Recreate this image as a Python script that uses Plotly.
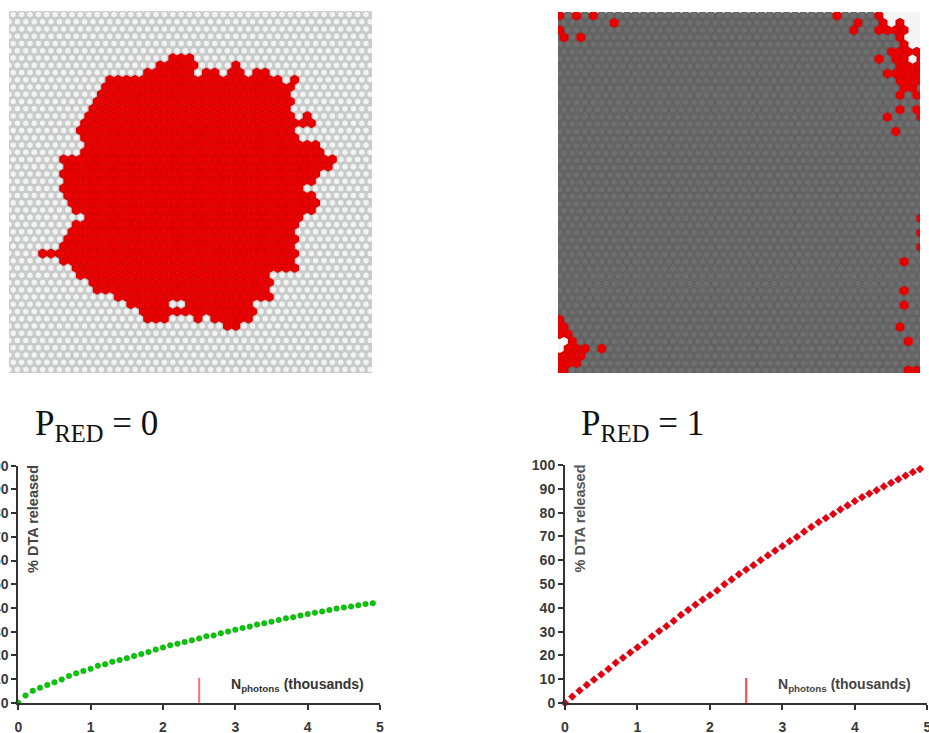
import plotly.graph_objects as go

W, H = 929, 733

# --- Lattice panels: red / white runs per row (positions along the row in picture units)
LEFT_RED_RUNS = {
    6: [(168, 193)], 7: [(157, 197), (230, 240)],
    8: [(143, 192), (200, 218), (226, 240), (252, 268)],
    9: [(105, 282), (290, 298)], 10: [(100, 292)], 11: [(95, 293)], 12: [(95, 297)],
    13: [(92, 293)], 14: [(83, 293), (300, 310)], 15: [(78, 315)], 16: [(76, 297)],
    17: [(80, 297)], 18: [(82, 320)], 19: [(82, 325)], 20: [(58, 334)], 21: [(60, 329)],
    22: [(60, 322)], 23: [(60, 318)], 24: [(60, 307)], 25: [(62, 318)], 26: [(67, 316)],
    27: [(72, 312)], 28: [(82, 306)], 29: [(72, 300)], 30: [(66, 295)], 31: [(62, 297)],
    32: [(60, 297)], 33: [(37, 297)], 34: [(58, 297)], 35: [(72, 297)],
    36: [(78, 272), (283, 290)], 37: [(85, 270)], 38: [(95, 268)], 39: [(112, 272)],
    40: [(125, 168), (183, 255)], 41: [(137, 255)],
    42: [(145, 165), (195, 198), (212, 250)], 43: [(225, 238)],
}
RIGHT_RED_RUNS = {
    0: [(558, 565), (573, 582), (590, 598), (833, 842), (877, 883)],
    1: [(612, 619), (855, 862), (880, 885), (897, 905)],
    2: [(558, 565), (852, 858), (877, 908)],
    3: [(558, 565), (578, 585), (899, 907)],
    4: [(903, 912)], 5: [(888, 925)], 6: [(876, 883), (893, 910), (917, 925)],
    7: [(895, 925)], 8: [(883, 925)], 9: [(897, 925)], 10: [(900, 913)],
    11: [(896, 903), (915, 925)], 13: [(897, 905), (915, 925)],
    14: [(883, 892), (915, 925)], 16: [(893, 901)],
    28: [(917, 925)], 30: [(917, 925)], 32: [(917, 925)],
    34: [(901, 908)], 38: [(901, 908)], 40: [(901, 908)],
    42: [(553, 563)], 43: [(897, 905), (553, 568)], 44: [(553, 575)],
    45: [(905, 913), (565, 577)], 46: [(565, 590), (599, 607)],
    47: [(553, 582)], 48: [(553, 580)], 49: [(905, 925), (553, 570)],
}
RIGHT_WHITE_RUNS = {
    0: [(885, 925)], 1: [(888, 897), (905, 925)], 2: [(908, 925)], 3: [(906, 925)],
    4: [(912, 925)], 6: [(910, 917)], 45: [(553, 565)], 46: [(553, 565)],
}
LEFT_WHITE_RUNS = {}

# --- Release curves
N_THOUSANDS = [i / 10 for i in range(50)]
RELEASE_P0 = [0, 3, 5, 6.3, 7.5, 8.6, 9.8, 11.3, 12.4, 13.4, 14.3, 15.6, 16.2, 17.3, 18, 18.8, 19.7,
              20.5, 21.4, 22.4, 23.3, 24.2, 24.9, 25.6, 26.3, 27.1, 28, 28.4, 29.3, 30, 30.8, 31.5,
              32.1, 33, 33.5, 34.2, 34.9, 35.6, 36.1, 36.8, 37.4, 38, 38.5, 39.1, 39.7, 40.2, 40.6,
              41.1, 41.6, 42]
RELEASE_P1 = [0, 2.7, 5.2, 7.6, 9.8, 12, 14.3, 16.9, 19, 21.2, 23.4, 25.5, 28, 30.2, 32.3, 34.5, 37,
              39.1, 41.3, 43.4, 45.3, 47.3, 49.9, 51.9, 54.1, 56, 57.9, 60, 62, 64, 65.9, 68, 69.8,
              72, 74, 76, 77.7, 79.4, 81.3, 83, 84.8, 86.5, 88, 89.4, 91, 92.5, 94, 95.5, 97, 98.3]
Y_TICKS = list(range(0, 101, 10))
X_TICKS = [0, 1, 2, 3, 4, 5]
MARKER_X = [2.5, 2.5]
MARKER_Y = [-0.8, 10.5]

LATTICE_PITCH = 8.4
ROW_PITCH = 7.24


def lattice(x0, x1, y0, y1, red_runs, white_runs):
    cells = {"base": ([], []), "red": ([], []), "white": ([], [])}
    r = 0
    y = y0 + ROW_PITCH / 2
    while y - ROW_PITCH < y1:
        c = -1
        while True:
            x = x0 + LATTICE_PITCH * (c + 0.5 + 0.5 * (r % 2))
            if x - LATTICE_PITCH > x1:
                break
            if any(a <= x <= b for a, b in red_runs.get(r, [])):
                kind = "red"
            elif any(a <= x <= b for a, b in white_runs.get(r, [])):
                kind = "white"
            else:
                kind = "base"
            cells[kind][0].append(x)
            cells[kind][1].append(y)
            c += 1
        r += 1
        y += ROW_PITCH
    return cells


def cell_traces(cells, ax, ay, base, spot):
    out = []
    styles = [("base", "hexagon", 10.2, base), ("base", "circle", 5.5, spot),
              ("white", "hexagon", 10.2, "#f4f6f6"),
              ("red", "hexagon", 10.2, "#dc0000"), ("red", "circle", 6, "#ea0000")]
    for kind, sym, size, col in styles:
        xs, ys = cells[kind]
        out.append(go.Scatter(x=xs, y=ys, mode="markers", xaxis=ax, yaxis=ay, hoverinfo="skip",
                              marker=dict(symbol=sym, size=size, color=col, line_width=0)))
    return out


fig = go.Figure()
PANELS = [("x", "y", 9, 372, 11, 373, 0, LEFT_RED_RUNS, LEFT_WHITE_RUNS, "#c9cbcb", "#f2f3f3"),
          ("x2", "y2", 558, 920, 12, 373, -2.5, RIGHT_RED_RUNS, RIGHT_WHITE_RUNS, "#626262", "#6f6f6f")]
for ax, ay, x0, x1, y0, y1, phase, red, white, base, spot in PANELS:
    for t in cell_traces(lattice(x0 + phase, x1, y0, y1, red, white), ax, ay, base, spot):
        fig.add_trace(t)

CHARTS = [("x3", "y3", RELEASE_P0, "circle", 5.5, "#06c806", "#0a9a0a", "#ff7070"),
          ("x4", "y4", RELEASE_P1, "diamond", 6, "#e00012", "#e00012", "#ff4848")]
for ax, ay, vals, sym, size, col, edge, tick in CHARTS:
    fig.add_trace(go.Scatter(x=MARKER_X, y=MARKER_Y, mode="lines", xaxis=ax, yaxis=ay,
                             line=dict(color=tick, width=2), cliponaxis=False, hoverinfo="skip"))
    fig.add_trace(go.Scatter(x=N_THOUSANDS, y=vals, mode="markers", xaxis=ax, yaxis=ay,
                             cliponaxis=False,
                             marker=dict(symbol=sym, size=size, color=col,
                                         line=dict(color=edge, width=0.5))))


def dom_x(a, b):
    return [a / W, b / W]


def dom_y(top, bottom):
    return [1 - bottom / H, 1 - top / H]


hidden = dict(visible=False, showgrid=False, zeroline=False, automargin=False)
chart_font = dict(family="Liberation Sans", size=14, color="#3a3a3a")


def chart_x(a, b, anchor):
    return dict(domain=dom_x(a, b), range=[0, 5], anchor=anchor, showgrid=False, zeroline=False,
                automargin=False, showline=True, linewidth=2, linecolor="#333333", ticks="outside",
                ticklen=5, tickwidth=2, tickcolor="#333333", tickvals=X_TICKS,
                ticktext=[f"<b>{v}</b>" for v in X_TICKS], tickfont=chart_font,
                ticklabelstandoff=5, ticklabeloverflow="allow")


def chart_y(top, bottom, anchor):
    return dict(domain=dom_y(top, bottom), range=[0, 100], anchor=anchor, showgrid=False,
                zeroline=False, automargin=False, showline=True, linewidth=2, linecolor="#333333",
                ticks="outside", ticklen=5, tickwidth=2, tickcolor="#333333", tickvals=Y_TICKS,
                ticktext=[f"<b>{v}</b>" for v in Y_TICKS], tickfont=chart_font,
                ticklabeloverflow="allow")


def note(text, x, y, size, family, color="#2a2a2a", angle=0, xanchor="center"):
    return dict(text=text, x=x / W, y=1 - y / H, xref="paper", yref="paper", showarrow=False,
                textangle=angle, xanchor=xanchor, yanchor="middle",
                font=dict(family=family, size=size, color=color))


sans = "Liberation Sans"
serif = "Liberation Serif"
fig.update_layout(
    width=W, height=H, margin=dict(l=0, r=0, t=0, b=0), showlegend=False,
    paper_bgcolor="white", plot_bgcolor="white",
    xaxis=dict(domain=dom_x(9, 372), range=[9, 372], anchor="y", **hidden),
    yaxis=dict(domain=dom_y(11, 373), range=[373, 11], anchor="x", **hidden),
    xaxis2=dict(domain=dom_x(558, 920), range=[558, 920], anchor="y2", **hidden),
    yaxis2=dict(domain=dom_y(12, 373), range=[373, 12], anchor="x2", **hidden),
    xaxis3=chart_x(18.3, 380, "y3"), yaxis3=chart_y(465.7, 702.7, "x3"),
    xaxis4=chart_x(565, 927.3, "y4"), yaxis4=chart_y(465, 703, "x4"),
    annotations=[
        note("P<sub>RED</sub> = 0", 96, 426, 35, serif, "#111111"),
        note("P<sub>RED</sub> = 1", 642, 426, 35, serif, "#111111"),
        note("<b>% DTA released</b>", 33, 519, 14.5, sans, "#444444", -90),
        note("<b>% DTA released</b>", 579.5, 519, 14.5, sans, "#555555", -90),
        note("<b>N<sub>photons</sub> (thousands)</b>", 297, 685, 14, sans, "#333333"),
        note("<b>N<sub>photons</sub> (thousands)</b>", 844, 685, 14, sans, "#444444"),
    ],
)
fig.write_html("out.html", config={"displayModeBar": False},
               post_script="document.body.style.margin='0';")
